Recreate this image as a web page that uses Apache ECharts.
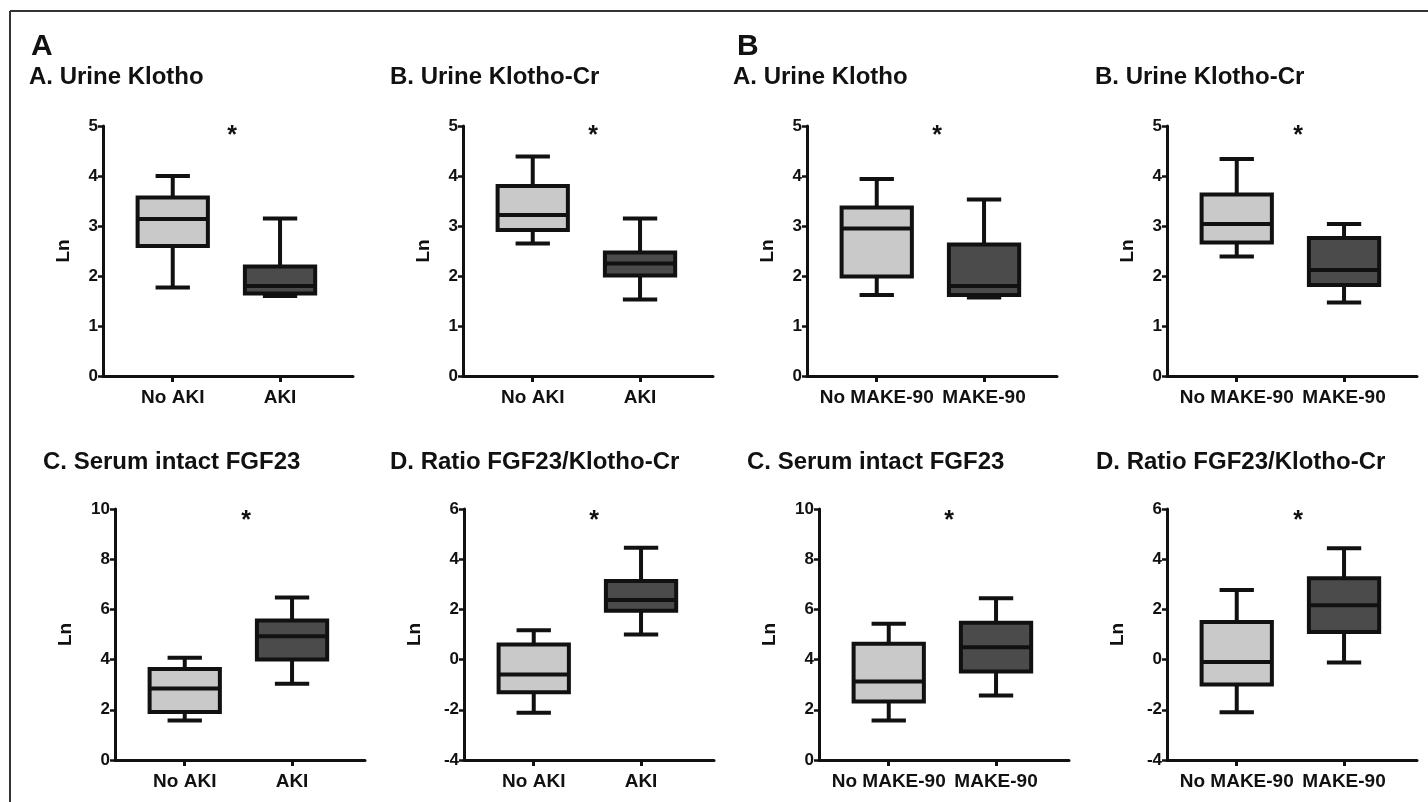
<!DOCTYPE html>
<html>
<head>
<meta charset="utf-8">
<script src="https://cdn.jsdelivr.net/npm/echarts@6/dist/echarts.min.js"></script>
<style>
html,body{margin:0;padding:0;background:#fff;}
#chart{width:1428px;height:802px;}
</style>
</head>
<body>
<div id="chart"></div>
<script>
// ---- data (Ln values): [lower whisker, Q1, median, Q3, upper whisker]
const groupsAKI = ['No AKI', 'AKI'];
const groupsMAKE = ['No MAKE-90', 'MAKE-90'];
const sectionLabels = ['A', 'B'];
const panelTitles = ['A. Urine Klotho', 'B. Urine Klotho-Cr', 'A. Urine Klotho', 'B. Urine Klotho-Cr',
                     'C. Serum intact FGF23', 'D. Ratio FGF23/Klotho-Cr', 'C. Serum intact FGF23', 'D. Ratio FGF23/Klotho-Cr'];
const akiUrineKlotho    = [[1.77, 2.60, 3.14, 3.57, 4.00], [1.60, 1.65, 1.80, 2.19, 3.15]];
const akiUrineKlothoCr  = [[2.65, 2.92, 3.22, 3.80, 4.39], [1.53, 2.01, 2.25, 2.47, 3.15]];
const makeUrineKlotho   = [[1.62, 1.99, 2.95, 3.37, 3.94], [1.57, 1.62, 1.80, 2.63, 3.53]];
const makeUrineKlothoCr = [[2.39, 2.67, 3.04, 3.63, 4.34], [1.47, 1.82, 2.12, 2.76, 3.04]];
const akiFGF23          = [[1.57, 1.91, 2.85, 3.63, 4.07], [3.04, 4.00, 4.93, 5.56, 6.47]];
const akiRatio          = [[-2.12, -1.30, -0.59, 0.60, 1.17], [1.00, 1.95, 2.37, 3.13, 4.46]];
const makeFGF23         = [[1.57, 2.33, 3.13, 4.63, 5.43], [2.57, 3.53, 4.49, 5.47, 6.44]];
const makeRatio         = [[-2.10, -0.99, -0.10, 1.50, 2.77], [-0.12, 1.10, 2.17, 3.24, 4.44]];
// y-axis ranges [min, max, interval]
const yKlotho = [0, 5, 1];
const yFGF23 = [0, 10, 2];
const yRatio = [-4, 6, 2];
const significance = '*';

// ---- layout
const panels = [
  {stats: akiUrineKlotho,    groups: groupsAKI,  y: yKlotho, left: 103,  top: 126, star: [232, 130], title: [29, 77],   nameGap: 30},
  {stats: akiUrineKlothoCr,  groups: groupsAKI,  y: yKlotho, left: 463,  top: 126, star: [593, 130], title: [390, 77],  nameGap: 30},
  {stats: makeUrineKlotho,   groups: groupsMAKE, y: yKlotho, left: 807,  top: 126, star: [937, 130], title: [733, 77],  nameGap: 30},
  {stats: makeUrineKlothoCr, groups: groupsMAKE, y: yKlotho, left: 1167, top: 126, star: [1298, 130], title: [1095, 77], nameGap: 30},
  {stats: akiFGF23,          groups: groupsAKI,  y: yFGF23,  left: 115,  top: 509, star: [246, 515], title: [43, 462],  nameGap: 40},
  {stats: akiRatio,          groups: groupsAKI,  y: yRatio,  left: 464,  top: 509, star: [594, 515], title: [390, 462], nameGap: 40},
  {stats: makeFGF23,         groups: groupsMAKE, y: yFGF23,  left: 819,  top: 509, star: [949, 515], title: [747, 462], nameGap: 40},
  {stats: makeRatio,         groups: groupsMAKE, y: yRatio,  left: 1167, top: 509, star: [1298, 515], title: [1096, 462], nameGap: 40}
];
const FONT = '"Liberation Sans", Arial, Helvetica, sans-serif';
const INK = '#111';
const FILLS = ['#c9c9c9', '#4b4b4b'];
const BOX_W = 0.655, CAP_W = 0.32, LW = 4;

function renderBox(params, api) {
  const x = api.value(0);
  const v = [1, 2, 3, 4, 5].map(d => api.value(d));
  const cx = api.coord([x, v[2]])[0];
  const yy = v.map(val => api.coord([x, val])[1]);
  const bw = api.size([BOX_W, 0])[0];
  const cw = api.size([CAP_W, 0])[0];
  const st = {stroke: INK, lineWidth: LW, fill: null};
  return {
    type: 'group',
    children: [
      {type: 'line', shape: {x1: cx, y1: yy[3], x2: cx, y2: yy[4]}, style: st},
      {type: 'line', shape: {x1: cx - cw / 2, y1: yy[4], x2: cx + cw / 2, y2: yy[4]}, style: st},
      {type: 'line', shape: {x1: cx, y1: yy[1], x2: cx, y2: yy[0]}, style: st},
      {type: 'line', shape: {x1: cx - cw / 2, y1: yy[0], x2: cx + cw / 2, y2: yy[0]}, style: st},
      {type: 'rect', shape: {x: cx - bw / 2, y: yy[3], width: bw, height: yy[1] - yy[3]},
       style: {fill: FILLS[params.dataIndex], stroke: INK, lineWidth: LW}},
      {type: 'line', shape: {x1: cx - bw / 2, y1: yy[2], x2: cx + bw / 2, y2: yy[2]}, style: st}
    ]
  };
}

const grid = [], xAxis = [], yAxis = [], series = [];
const graphic = [
  {type: 'line', shape: {x1: 10, y1: 11, x2: 1428, y2: 11}, style: {stroke: '#333', lineWidth: 2}},
  {type: 'line', shape: {x1: 10, y1: 11, x2: 10, y2: 802}, style: {stroke: '#333', lineWidth: 2}},
  {type: 'text', x: 31, y: 47, style: {text: sectionLabels[0], font: 'bold 30px ' + FONT, fill: INK, verticalAlign: 'middle'}},
  {type: 'text', x: 737, y: 47, style: {text: sectionLabels[1], font: 'bold 30px ' + FONT, fill: INK, verticalAlign: 'middle'}}
];

panels.forEach((p, i) => {
  grid.push({left: p.left, top: p.top, width: 250, height: p.top < 300 ? 250 : 251, containLabel: false, outerBoundsMode: 'none'});
  const groups = p.groups;
  xAxis.push({
    type: 'value', gridIndex: i, min: 0.35, max: 2.68,
    splitLine: {show: false},
    axisLine: {show: true, onZero: false, lineStyle: {color: INK, width: 3}},
    axisTick: {show: true, customValues: [1, 2], length: 6, lineStyle: {color: INK, width: 3}},
    axisLabel: {show: true, customValues: [1, 2], margin: 12,
      formatter: val => groups[Math.round(val) - 1] || '',
      fontFamily: FONT, fontWeight: 'bold', fontSize: 19, color: INK}
  });
  yAxis.push({
    type: 'value', gridIndex: i, min: p.y[0], max: p.y[1], interval: p.y[2],
    splitLine: {show: false},
    axisLine: {show: true, onZero: false, lineStyle: {color: INK, width: 3}},
    axisTick: {show: true, length: 5, lineStyle: {color: INK, width: 2.5}},
    axisLabel: {margin: 5, fontFamily: FONT, fontWeight: 'bold', fontSize: 17, color: INK},
    name: 'Ln', nameLocation: 'middle', nameGap: p.nameGap, nameRotate: 90,
    nameTextStyle: {fontFamily: FONT, fontWeight: 'bold', fontSize: 19, color: INK}
  });
  series.push({
    type: 'custom', xAxisIndex: i, yAxisIndex: i,
    data: p.stats.map((s, k) => [k + 1].concat(s)),
    encode: {x: 0, y: [1, 2, 3, 4, 5]},
    renderItem: renderBox, silent: true, clip: false
  });
  graphic.push({type: 'text', x: p.title[0], y: p.title[1],
    style: {text: panelTitles[i], font: 'bold 24px ' + FONT, fill: INK, verticalAlign: 'middle'}});
  graphic.push({type: 'text', x: p.star[0], y: p.star[1] + 6,
    style: {text: significance, font: 'bold 25px ' + FONT, fill: INK, align: 'center', verticalAlign: 'middle'}});
});

const chart = echarts.init(document.getElementById('chart'), null, {renderer: 'canvas'});
chart.setOption({
  animation: false,
  backgroundColor: '#fff',
  textStyle: {fontFamily: FONT},
  grid, xAxis, yAxis, series, graphic
});
</script>
</body>
</html>
